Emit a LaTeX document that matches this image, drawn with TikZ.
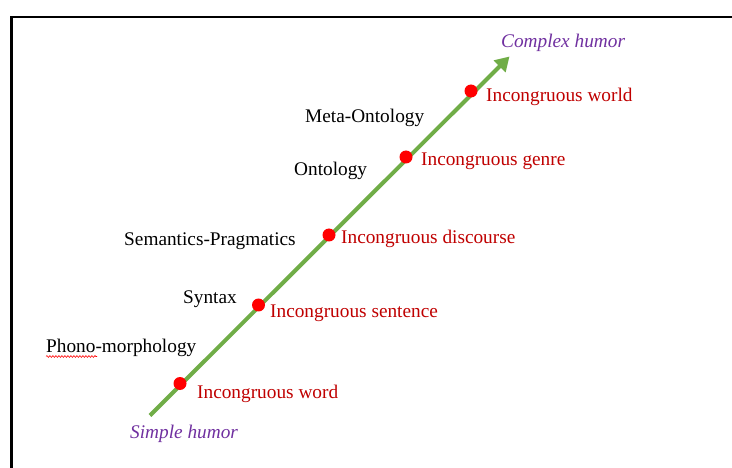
\documentclass[tikz,border=0pt]{standalone}
\usepackage{fontspec}
\setmainfont{Liberation Serif}
\usetikzlibrary{arrows.meta,decorations.pathmorphing}
\definecolor{axisgreen}{HTML}{70AD47}
\definecolor{incred}{HTML}{C00000}
\definecolor{dotred}{HTML}{FF0000}
\definecolor{humorpurple}{HTML}{7030A0}
\tikzset{
  lbl/.style={inner sep=0pt, anchor=base west, font=\fontsize{19.3pt}{22pt}\selectfont},
  level/.style={lbl, text=black},
  incong/.style={lbl, text=incred},
  humor/.style={lbl, text=humorpurple, font=\fontsize{19.3pt}{22pt}\selectfont\itshape},
  dot/.style={circle, fill=dotred, inner sep=0pt, minimum size=13pt},
  axis/.style={draw=axisgreen, line width=4pt, -{Triangle[length=14pt,width=16pt]}},
}
\begin{document}
\begin{tikzpicture}[x=1pt,y=-1pt]
\useasboundingbox (0,0) rectangle (732,468);
\fill[white] (0,0) rectangle (732,468);
% frame
\draw[line width=2.6pt] (11.5,468) -- (11.5,17) -- (732,17);
% axis
\coordinate (s) at (150,415.5);
\coordinate (e) at (509.5,56.5);
\draw[axis] (s) -- (e);
% dots
\node[dot] (d1) at (180,383.5) {};
\node[dot] (d2) at (258.5,305) {};
\node[dot] (d3) at (329,235) {};
\node[dot] (d4) at (406,157) {};
\node[dot] (d5) at (471,91) {};
% red labels
\node[incong] (i1) at (197,398) {Incongruous word};
\node[incong] (i2) at (270,317) {Incongruous sentence};
\node[incong] (i3) at (341,244) {Incongruous discourse};
\node[incong] (i4) at (421,165.5) {Incongruous genre};
\node[incong] (i5) at (486,102) {Incongruous world};
% level labels
\node[level] (l1) at (46,352.5) {Phono-morphology};
\node[level] (l2) at (183,303.5) {Syntax};
\node[level] (l3) at (124,246) {Semantics-Pragmatics};
\node[level] (l4) at (294,175.5) {Ontology};
\node[level] (l5) at (305,122.5) {Meta-Ontology};
% humor labels
\node[humor] (h1) at (130,438.5) {Simple humor};
\node[humor] (h2) at (501,48) {Complex humor};
% spell-check squiggle
\coordinate (q1) at (46,356.5);
\coordinate (q2) at (97,356.5);
\draw[dotred, line width=0.6pt, decorate, decoration={snake, amplitude=0.9pt, segment length=3pt}] (q1) -- (q2);
\end{tikzpicture}
\end{document}
